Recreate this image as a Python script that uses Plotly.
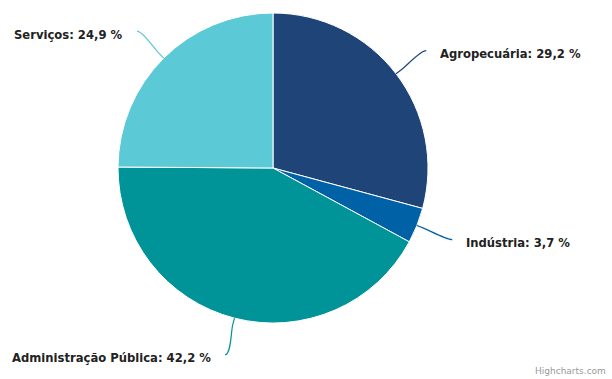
import math
import plotly.graph_objects as go

categories = ["Agropecuária", "Indústria", "Administração Pública", "Serviços"]
values = [29.2, 3.7, 42.2, 24.9]
colors = ["#1f4477", "#0061a6", "#009499", "#5bc9d6"]

W, H = 612, 379
CX, CY, R = 273, 168, 155
LABEL_R = 193
BREAK_R = R + 7
GAP = 12

fig = go.Figure(go.Pie(
    labels=categories, values=values, sort=False, direction="clockwise", rotation=0,
    marker=dict(colors=colors, line=dict(color="#ffffff", width=1)),
    textinfo="none", hoverinfo="label+percent", showlegend=False,
    domain=dict(x=[(CX - R) / W, (CX + R) / W], y=[1 - (CY + R) / H, 1 - (CY - R) / H]),
))

def px(x, y):
    return x / W, 1 - y / H

total = sum(values)
cum = 0.0
shapes = []
annotations = []
for cat, v, col in zip(categories, values, colors):
    mid = (cum + v / 2) / total * 2 * math.pi
    cum += v
    s, c = math.sin(mid), -math.cos(mid)
    ex, ey = CX + R * s, CY + R * c
    bx, by = CX + BREAK_R * s, CY + BREAK_R * c
    lx, ly = CX + LABEL_R * s, CY + LABEL_R * c
    right = s >= 0
    c1x = lx - 6 if right else lx + 6
    c2x, c2y = 2 * bx - ex, 2 * by - ey
    pts = [px(lx, ly), px(c1x, ly), px(c2x, c2y), px(bx, by), px(ex, ey)]
    path = "M {:.5f},{:.5f} C {:.5f},{:.5f} {:.5f},{:.5f} {:.5f},{:.5f} L {:.5f},{:.5f}".format(
        *[k for p in pts for k in p])
    shapes.append(dict(type="path", xref="paper", yref="paper", path=path,
                       line=dict(color=col, width=1.2)))
    tx = lx + GAP if right else lx - GAP
    annotations.append(dict(
        x=tx / W, y=1 - (ly + 3.5) / H, xref="paper", yref="paper",
        text="<b>%s: %s %%</b>" % (cat, ("%.1f" % v).replace(".", ",")),
        showarrow=False, xanchor="left" if right else "right", yanchor="middle",
        font=dict(family="DejaVu Sans", size=11.6, color="#222222"),
    ))

annotations.append(dict(
    x=608 / W, y=1 - 371 / H, xref="paper", yref="paper", text="Highcharts.com",
    showarrow=False, xanchor="right", yanchor="middle",
    font=dict(family="DejaVu Sans", size=9, color="#999999"),
))

fig.update_layout(
    width=W, height=H, margin=dict(l=0, r=0, t=0, b=0),
    paper_bgcolor="#ffffff", plot_bgcolor="#ffffff",
    shapes=shapes, annotations=annotations,
)
fig.write_html("out.html", config={"displayModeBar": False},
               post_script="document.body.style.margin='0';document.body.style.padding='0';")
